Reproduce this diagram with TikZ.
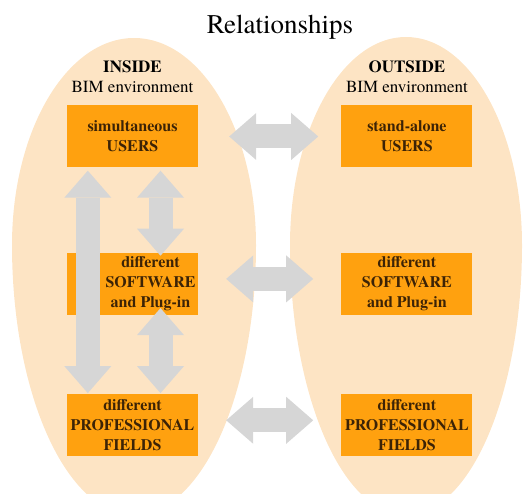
\documentclass[tikz,border=0pt]{standalone}
\usepackage{fontspec}
\setmainfont{texgyretermes}[Extension=.otf, UprightFont=*-regular, BoldFont=*-bold]
\usetikzlibrary{positioning, arrows.meta}

\definecolor{peach}{HTML}{FDE4C4}
\definecolor{boxorange}{HTML}{FFA10F}
\definecolor{boxtext}{HTML}{3C2306}
\definecolor{arrowgray}{HTML}{D6D6D6}

\tikzset{
  field/.style={fill=peach, draw=none},
  topic/.style={fill=boxorange, text=boxtext, minimum width=131pt, minimum height=62pt,
    inner sep=0pt, align=center, font=\bfseries\fontsize{16}{20}\selectfont},
  side/.style={align=center, inner sep=0pt, font=\fontsize{17}{20}\selectfont},
  fatarrow/.style={arrowgray, line width=24pt,
    {Triangle[width=47pt,length=27pt,line width=0pt]}-{Triangle[width=47pt,length=27pt,line width=0pt]}}
}
\newcommand{\pushr}{\hspace*{36pt}}

\begin{document}
\begin{tikzpicture}[x=1pt,y=1pt]
    \useasboundingbox (0,0) rectangle (532,-494);

    % the two environments (egg shaped)
    \fill[field] (12,-245) arc[start angle=180, end angle=0, x radius=122pt, y radius=207pt]
        arc[start angle=0, end angle=-180, x radius=122pt, y radius=270pt] -- cycle;
    \fill[field] (290,-245) arc[start angle=180, end angle=0, x radius=116pt, y radius=208pt]
        arc[start angle=0, end angle=-180, x radius=116pt, y radius=270pt] -- cycle;

    \node[font=\fontsize{27}{32}\selectfont] (title) at (280,-27) {Relationships};

    % inside column
    \node[topic] (usin) at (132.5,-136.5) {simultaneous\\USERS};
    \node[topic, below=85pt of usin] (swin) {\pushr different\\\pushr SOFTWARE\\\pushr and Plug-in};
    \node[topic, below=79pt of swin] (prin) {different\\PROFESSIONAL\\FIELDS};

    % outside column
    \node[topic, right=143pt of usin] (usout) {stand-alone\\USERS};
    \node[topic, right=143pt of swin] (swout) {different\\SOFTWARE\\and Plug-in};
    \node[topic, right=143pt of prin] (prout) {different\\PROFESSIONAL\\FIELDS};

    % headings
    \node[side, above=12pt of usin] (inhead) {\textbf{INSIDE}\\BIM environment};
    \node[side, above=12pt of usout] (outhead) {\textbf{OUTSIDE}\\BIM environment};

    % relations across
    \draw[fatarrow, shorten <=31pt, shorten >=23pt] (usin.east) -- (usout.west);
    \draw[fatarrow, shorten <=28pt, shorten >=28pt] ([yshift=5pt]swin.east) -- ([yshift=5pt]swout.west);
    \draw[fatarrow, shorten <=28pt, shorten >=28pt] ([yshift=5pt]prin.east) -- ([yshift=5pt]prout.west);

    % relations inside
    \draw[fatarrow, shorten <=3pt, shorten >=1pt] ([xshift=21pt]usin.south west) -- ([xshift=21pt]prin.north west);
    \draw[fatarrow, shorten <=3pt, shorten >=-3pt] ([xshift=28pt]usin.south) -- ([xshift=28pt]swin.north);
    \draw[fatarrow, shorten <=-7pt, shorten >=1pt] ([xshift=28pt]swin.south) -- ([xshift=28pt]prin.north);
\end{tikzpicture}
\end{document}
